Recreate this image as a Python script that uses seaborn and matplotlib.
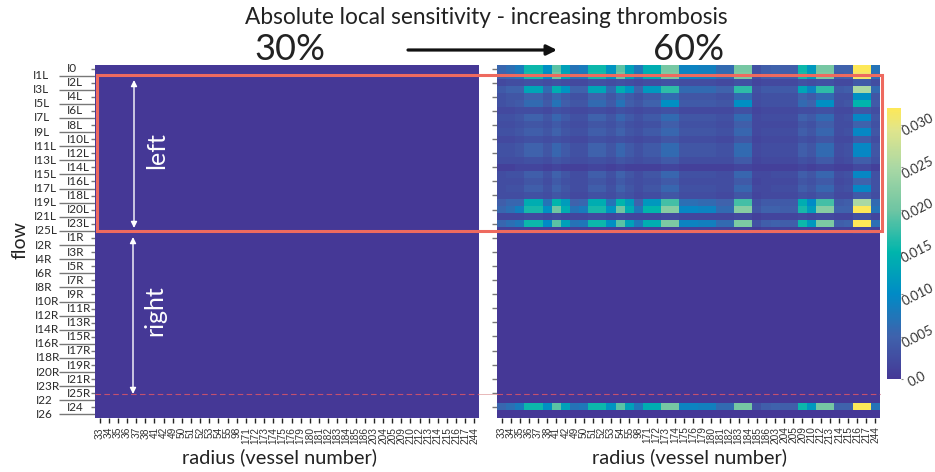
import numpy as np
import matplotlib
matplotlib.use("Agg")
import matplotlib.pyplot as plt
from matplotlib.colors import LinearSegmentedColormap
from matplotlib.patches import Rectangle
import seaborn as sns

vessels = [33, 34, 35, 36, 37, 38, 41, 42, 49, 50, 51, 52, 53, 54, 55, 98, 171, 172, 173, 174, 175,
           176, 179, 180, 181, 182, 183, 184, 185, 186, 203, 204, 205, 209, 210, 212, 213, 214, 215, 216, 217, 244]

flows = ["I0", "I1L", "I2L", "I3L", "I4L", "I5L", "I6L", "I7L", "I8L", "I9L", "I10L", "I11L", "I12L",
         "I13L", "I14L", "I15L", "I16L", "I17L", "I18L", "I19L", "I20L", "I21L", "I23L", "I25L",
         "I1R", "I2R", "I3R", "I4R", "I5R", "I6R", "I7R", "I8R", "I9R", "I10R", "I11R", "I12R", "I13R",
         "I14R", "I15R", "I16R", "I17R", "I18R", "I19R", "I20R", "I21R", "I23R", "I25R", "I22", "I24", "I26"]

# values, in units of 0.001
s_I0 = [5.5, 6.5, 8, 15.5, 15.5, 10.5, 19, 12.5, 7, 8, 15.5, 15.5, 11, 19, 12.5, 7.5, 14, 14, 20.5, 20.5, 9, 9, 8.5, 8.5, 6, 6, 20.5, 20.5, 3, 4.5, 5, 4.5, 4.5, 15.5, 11.5, 20.5, 20.5, 5, 5, 32, 32, 7]
s_I1L = [5, 6, 7.5, 16, 16, 10, 20, 13, 6.5, 7.5, 16, 16, 11, 20, 13, 7, 14, 14, 21, 21, 9, 9, 8.5, 8.5, 6, 6, 21, 21, 3, 4.5, 5, 4.5, 4.5, 16, 12, 21, 21, 4.5, 5, 31, 31, 6.5]
s_I2L = [2, 2.5, 2.5, 3, 3, 2.5, 3, 2.5, 2, 2, 3, 3, 2.5, 3, 2.5, 2, 2.5, 2.5, 3, 3, 2.5, 2.5, 2.5, 2.5, 2, 2, 3, 3, 1.5, 2, 2, 2, 2, 3, 2.5, 3, 3, 2, 2, 4, 4, 2.5]
s_I3L = [4, 5, 5, 13, 13, 6, 14, 11, 5, 5, 13, 13, 6, 14, 11, 5, 11.5, 11.5, 17, 17, 6, 6, 6, 6, 5, 5, 17, 17, 3, 4, 4, 4, 4, 13, 9, 17, 17, 4, 4.5, 25, 25, 6]
s_I4L = [3, 3.5, 3.5, 5, 5, 3.5, 5.5, 4, 3, 3, 5, 5, 3.5, 5.5, 4, 3, 4, 4, 6, 6, 3.5, 3.5, 3.5, 3.5, 3, 3, 6, 6, 2.5, 3, 3, 3, 3, 5, 4, 6, 6, 3, 3, 10.5, 10.5, 3.5]
s_I5L = [3, 3.5, 4, 6, 6, 4, 7, 4.5, 3.5, 3.5, 6, 6, 4, 7, 4.5, 3.5, 5, 5, 10.5, 10.5, 4, 4, 4, 4, 3.5, 3.5, 10.5, 10.5, 2.5, 3, 3, 3, 3, 6, 5, 10.5, 10.5, 3, 3.5, 15, 15, 4]
s_I6L = [2, 2, 2.5, 2.5, 2.5, 2, 3, 2.5, 2, 2, 2.5, 2.5, 2, 3, 2.5, 2, 2.5, 2.5, 3, 3, 2, 2, 2, 2, 2, 2, 3, 3, 1.5, 2, 2, 2, 2, 2.5, 2.5, 3, 3, 2, 2, 3.5, 3.5, 2.5]
s_I7L = [3, 3, 3.5, 5, 5, 3.5, 5.5, 4, 3, 3, 5, 5, 3.5, 5.5, 4, 3, 4, 4, 6, 6, 3.5, 3.5, 3.5, 3.5, 3, 3, 6, 6, 2, 2.5, 2.5, 2.5, 2.5, 5, 4, 6, 6, 2.5, 3, 9.5, 9.5, 3.5]
s_I8L = [2.5, 2.5, 3, 3.5, 3.5, 3, 4, 3, 2.5, 2.5, 3.5, 3.5, 3, 4, 3, 2.5, 3, 3, 4.5, 4.5, 3, 3, 3, 3, 2.5, 2.5, 4.5, 4.5, 2, 2, 2, 2, 2, 3.5, 3, 4.5, 4.5, 2.5, 2.5, 5, 5, 3]
s_I9L = [3, 3, 3.5, 4.5, 4.5, 3.5, 5, 3.5, 3, 3, 4.5, 4.5, 3.5, 5, 3.5, 3, 4, 4, 5.5, 5.5, 3.5, 3.5, 3.5, 3.5, 3, 3, 5.5, 5.5, 2, 2.5, 2.5, 2.5, 2.5, 4.5, 3.5, 5.5, 5.5, 2.5, 3, 9.5, 9.5, 3.5]
s_I10L = [2, 2, 2.5, 3, 3, 2.5, 3, 2.5, 2, 2, 3, 3, 2.5, 3, 2.5, 2, 2.5, 2.5, 3.5, 3.5, 2.5, 2.5, 2.5, 2.5, 2, 2, 3.5, 3.5, 1.5, 2, 2, 2, 2, 3, 2.5, 3.5, 3.5, 2, 2, 4, 4, 2.5]
s_I11L = [3, 3, 3.5, 5, 5, 3.5, 5.5, 4, 3, 3, 5, 5, 3.5, 5.5, 4, 3, 4, 4, 6, 6, 3.5, 3.5, 3.5, 3.5, 3, 3, 6, 6, 2, 2.5, 2.5, 2.5, 2.5, 4.5, 3.5, 6, 6, 2.5, 3, 9.5, 9.5, 3.5]
s_I12L = [3, 3, 3.5, 5, 5, 3.5, 5.5, 4, 3, 3, 5, 5, 3.5, 5.5, 4, 3, 4, 4, 6, 6, 3.5, 3.5, 3.5, 3.5, 3, 3, 6, 6, 2, 2.5, 2.5, 2.5, 2.5, 4.5, 3.5, 6, 6, 2.5, 3, 9.5, 9.5, 3.5]
s_I13L = [2.5, 2.5, 2.5, 3, 3, 2.5, 3.5, 3, 2.5, 2.5, 3, 3, 2.5, 3.5, 3, 2.5, 3, 3, 4, 4, 2.5, 2.5, 2.5, 2.5, 2.5, 2.5, 4, 4, 1.5, 2, 2, 2, 2, 3, 2.5, 4, 4, 2, 2.5, 4.5, 4.5, 3]
s_I14L = [1, 1, 1.5, 1.5, 1.5, 1, 1.5, 1, 1, 1, 1.5, 1.5, 1, 1.5, 1, 1, 1, 1, 1.5, 1.5, 1, 1, 1, 1, 1, 1, 1.5, 1.5, 1, 1, 1, 1, 1, 1.5, 1, 1.5, 1.5, 1, 1, 2, 2, 1]
s_I15L = [2.5, 3, 3, 4.5, 4.5, 3, 5, 3.5, 2.5, 2.5, 4.5, 4.5, 3, 5, 3.5, 2.5, 3.5, 3.5, 5.5, 5.5, 3, 3, 3, 3, 2.5, 2.5, 5.5, 5.5, 2, 2, 2.5, 2.5, 2.5, 4.5, 3.5, 5.5, 5.5, 2.5, 3, 9.5, 9.5, 3]
s_I16L = [2.5, 2.5, 2.5, 3.5, 3.5, 2.5, 4, 3, 2.5, 2.5, 3.5, 3.5, 2.5, 4, 3, 2.5, 3, 3, 4, 4, 2.5, 2.5, 2.5, 2.5, 2.5, 2.5, 4, 4, 1.5, 2, 2, 2, 2, 3.5, 3, 4, 4, 2, 2.5, 5, 5, 3]
s_I17L = [2.5, 3, 3, 4.5, 4.5, 3, 5, 3.5, 2.5, 2.5, 4.5, 4.5, 3, 5, 3.5, 2.5, 3.5, 3.5, 5.5, 5.5, 3, 3, 3, 3, 2.5, 2.5, 5.5, 5.5, 2, 2, 2.5, 2.5, 2.5, 4.5, 3.5, 5.5, 5.5, 2.5, 3, 9.5, 9.5, 3]
s_I18L = [2.5, 2.5, 2.5, 3, 3, 2.5, 3.5, 3, 2, 2, 3, 3, 2.5, 3.5, 3, 2, 2.5, 2.5, 3.5, 3.5, 2.5, 2.5, 2.5, 2.5, 2, 2, 3.5, 3.5, 1.5, 2, 2, 2, 2, 3, 2.5, 3.5, 3.5, 2, 2, 4, 4, 2.5]
s_I19L = [4.5, 5.5, 5.5, 14, 14, 7, 15, 12, 5, 5.5, 14, 14, 7, 15, 12, 5, 11.5, 11.5, 18, 18, 6.5, 6.5, 6, 6, 5, 5, 18, 18, 3, 4, 4, 4, 4, 14, 10, 18, 18, 4, 4.5, 25, 25, 6]
s_I20L = [5.5, 6.5, 8.5, 16, 16, 10.5, 20, 14, 7, 8, 16, 16, 11, 20, 14, 7.5, 15, 15, 22, 22, 9.5, 9.5, 9, 9, 6, 6, 22, 22, 3.5, 5, 5, 4.5, 4.5, 16, 12, 22, 22, 5, 5, 32, 32, 7]
s_I21L = [1.5, 1.5, 1.5, 2, 2, 1.5, 2, 1.5, 1.5, 1.5, 2, 2, 1.5, 2, 1.5, 1.5, 1.5, 1.5, 2, 2, 1.5, 1.5, 1.5, 1.5, 1.5, 1.5, 2, 2, 1, 1.5, 1.5, 1.5, 1.5, 2, 1.5, 2, 2, 1.5, 1.5, 3, 3, 1.5]
s_I23L = [5.5, 6.5, 7.5, 15.5, 15.5, 10, 19, 12.5, 7, 7.5, 15.5, 15.5, 10.5, 19, 12.5, 7.5, 14, 14, 21, 21, 9, 9, 8.5, 8.5, 6, 6, 21, 21, 3, 4.5, 5, 4.5, 4.5, 15.5, 11.5, 21, 21, 4.5, 5, 32, 32, 6.5]
s_I25L = [1, 1, 1, 1, 1, 1, 1, 1, 1, 1, 1, 1, 1, 1, 1, 1, 1, 1, 1, 1, 1, 1, 1, 1, 1, 1, 1, 1, 0.5, 1, 1, 1, 1, 1, 1, 1, 1, 1, 1, 1.5, 1.5, 1]
s_I24 = [5.5, 6.5, 8, 15.5, 15.5, 10.5, 19, 12.5, 7, 7.5, 15.5, 15.5, 11, 19, 12.5, 7.5, 14, 14, 20.5, 20.5, 9, 9, 8.5, 8.5, 6, 6, 20.5, 20.5, 3, 4.5, 5, 4.5, 4.5, 15.5, 11.5, 20.5, 20.5, 5, 5, 32, 32, 7]

left_rows = [s_I0, s_I1L, s_I2L, s_I3L, s_I4L, s_I5L, s_I6L, s_I7L, s_I8L, s_I9L, s_I10L, s_I11L, s_I12L,
             s_I13L, s_I14L, s_I15L, s_I16L, s_I17L, s_I18L, s_I19L, s_I20L, s_I21L, s_I23L, s_I25L]

sens_60 = np.zeros((len(flows), len(vessels)))
sens_60[:len(left_rows)] = np.array(left_rows) / 1000
sens_60[flows.index("I24")] = np.array(s_I24) / 1000
sens_30 = np.zeros((len(flows), len(vessels)))

cbar_ticks = [0.0, 0.005, 0.010, 0.015, 0.020, 0.025, 0.030]
cbar_labels = ["0.0", "0.005", "0.010", "0.015", "0.020", "0.025", "0.030"]

cmap = LinearSegmentedColormap.from_list("thrombosis", [
    (0.0, "#453896"), (0.156, "#3f62ac"), (0.3125, "#008bc6"), (0.469, "#00b5ac"),
    (0.625, "#6fc5a3"), (0.78, "#a9d8a4"), (0.92, "#e0e58c"), (1.0, "#fde858")])

sns.set_style("white")
plt.rcParams['font.family'] = ['Lato', 'DejaVu Sans']

W, H = 935, 472
fig = plt.figure(figsize=(W / 100, H / 100), dpi=100)


def px_axes(x0, y0, x1, y1):
    return fig.add_axes([x0 / W, 1 - y1 / H, (x1 - x0) / W, (y1 - y0) / H])


ax_l = px_axes(95, 65, 479, 418)
ax_r = px_axes(497, 65, 880, 417.5)
cax = px_axes(887.3, 108, 900.7, 379)

sns.heatmap(sens_30, ax=ax_l, cmap=cmap, vmin=0, vmax=0.032, cbar=False,
            xticklabels=vessels, yticklabels=flows)
sns.heatmap(sens_60, ax=ax_r, cmap=cmap, vmin=0, vmax=0.032, cbar=True, cbar_ax=cax,
            xticklabels=vessels, yticklabels=False)

for ax in [ax_l, ax_r]:
    ax.tick_params(axis="x", bottom=True, length=3.5, width=1, color="#222222", pad=3, labelsize=7.3, labelrotation=90)
    for lab in ax.get_xticklabels():
        lab.set_family("Liberation Sans")
        lab.set_color("#333333")

# two levels of flow labels on the left panel
ax_l.tick_params(axis="y", left=True, length=3, width=1, color="#777777", labelsize=8.5, labelrotation=0, labelcolor="#2a2a2a")
for i, tick in enumerate(ax_l.yaxis.get_major_ticks()):
    if i % 2 == 1:
        tick.set_pad(41.5 - i * 0.04)
        tick.tick1line.set_markersize(26)
    else:
        tick.set_pad(17)
    tick.label1.set_ha("left")

ax_r.set_yticks(np.arange(0, len(flows), 2) + 0.5)
ax_r.tick_params(axis="y", left=True, length=3.5, width=1, color="#777777", labelleft=False)

# colorbar
cax.set_yticks(cbar_ticks)
cax.set_yticklabels(cbar_labels, ha="center", va="center", fontsize=9.5, color="#333333")
cax.tick_params(axis="y", right=True, length=1.5, width=0.8, color="#888888", pad=10.5, labelrotation=27)
ax_r.collections[0].colorbar.outline.set_visible(False)

# annotations, in picture pixels
ov = fig.add_axes([0, 0, 1, 1])
ov.set_xlim(0, W)
ov.set_ylim(H, 0)
ov.axis("off")

ov.text(486, 18, "Absolute local sensitivity - increasing thrombosis", ha="center", va="center", fontsize=16.3, color="#222222")
ov.text(290, 49, "30%", ha="center", va="center", fontsize=26, color="#222222")
ov.text(689, 49, "60%", ha="center", va="center", fontsize=26, color="#222222")
ov.annotate("", xy=(557, 50), xytext=(408, 50),
            arrowprops=dict(arrowstyle="-|>", color="#111111", lw=2.3, mutation_scale=15, shrinkA=0, shrinkB=0))

ov.text(280, 457, "radius (vessel number)", ha="center", va="center", fontsize=14.4, color="#222222")
ov.text(690, 457, "radius (vessel number)", ha="center", va="center", fontsize=14.4, color="#222222")
ov.text(20, 240, "flow", ha="center", va="center", rotation=90, fontsize=14, color="#222222")

ov.add_patch(Rectangle((97, 75), 785, 156, fill=False, edgecolor="#ee6a5f", lw=2.2))
ov.plot([95, 479], [393.8, 393.8], color="#c4506f", lw=0.8, dashes=(5, 3))
ov.plot([479, 497], [393.5, 393.5], color="#e8b8b8", lw=0.7)
ov.plot([497, 880], [393.5, 393.5], color="#c4506f", lw=0.8, dashes=(5, 3))

for y0, y1, x in [(80, 228, 134), (237, 394, 133)]:
    ov.annotate("", xy=(x, y1), xytext=(x, y0),
                arrowprops=dict(arrowstyle="<|-|>", color="white", lw=1, mutation_scale=9, shrinkA=0, shrinkB=0))
ov.text(157, 151, "left", ha="center", va="center", rotation=90, fontsize=18, color="white")
ov.text(155, 311, "right", ha="center", va="center", rotation=90, fontsize=18, color="white")

fig.savefig("out.png", dpi=100)
